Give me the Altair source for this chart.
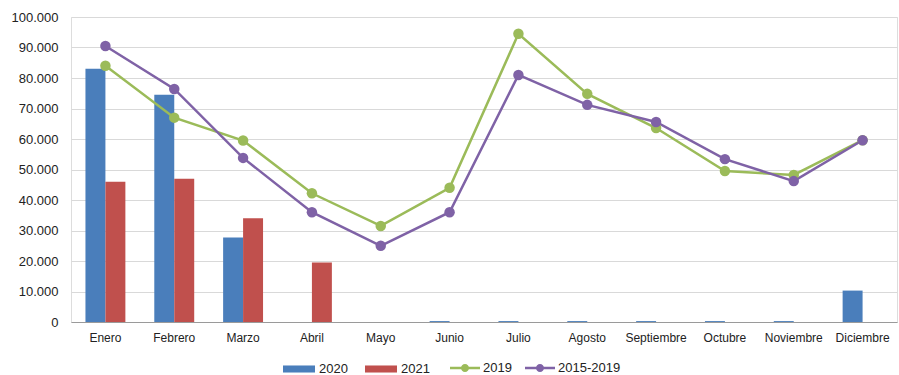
import altair as alt
import pandas as pd

meses = ["Enero", "Febrero", "Marzo", "Abril", "Mayo", "Junio", "Julio",
         "Agosto", "Septiembre", "Octubre", "Noviembre", "Diciembre"]
v2020 = [83000, 74500, 27700, 0, 0, 300, 300, 300, 300, 300, 300, 10300]
v2021 = [46000, 47000, 34000, 19500, None, None, None, None, None, None, None, None]
v2019 = [84000, 67000, 59500, 42200, 31500, 44000, 94500, 74800, 63600, 49500, 48200, 59600]
v1519 = [90500, 76400, 53800, 36000, 25000, 36000, 81000, 71200, 65600, 53400, 46200, 59600]
y_ticks = [0, 10000, 20000, 30000, 40000, 50000, 60000, 70000, 80000, 90000, 100000]

bar_series = ["2020", "2021"]
line_series = ["2019", "2015-2019"]
bar_colors = ["#4A7EBB", "#C0504D"]
line_colors = ["#9BBB59", "#7F62A6"]

rows_b = []
for i, m in enumerate(meses):
    rows_b.append({"mes": m, "serie": "2020", "valor": v2020[i]})
    rows_b.append({"mes": m, "serie": "2021", "valor": v2021[i]})
df_b = pd.DataFrame(rows_b)

rows_l = []
for i, m in enumerate(meses):
    rows_l.append({"mes": m, "serie_l": "2019", "serie_p": "2019", "valor": v2019[i]})
    rows_l.append({"mes": m, "serie_l": "2015-2019", "serie_p": "2015-2019", "valor": v1519[i]})
df_l = pd.DataFrame(rows_l)

FONT = "Liberation Sans"


def x_enc():
    return alt.X("mes:N", sort=meses, title=None,
                 scale=alt.Scale(paddingInner=0.42, paddingOuter=0.21),
                 axis=alt.Axis(labelAngle=0, ticks=False, domain=True, domainColor="#9a9a9a",
                               labelFont=FONT, labelFontSize=12, labelColor="#222222",
                               labelPadding=10, grid=False))


def y_enc():
    return alt.Y("valor:Q", title=None,
                 scale=alt.Scale(domain=[0, 100000], nice=False),
                 axis=alt.Axis(values=y_ticks, tickCount=12, ticks=False, domain=False,
                               labelOverlap=False,
                               labelExpr="replace(format(datum.value, ','), ',', '.')",
                               labelFont=FONT, labelFontSize=13, labelColor="#222222",
                               labelPadding=13, grid=True, gridColor="#d9d9d9"))


bars = alt.Chart(df_b).mark_bar().encode(
    x=x_enc(),
    y=y_enc(),
    xOffset=alt.XOffset("serie:N", sort=bar_series,
                        scale=alt.Scale(paddingInner=0, paddingOuter=0)),
    color=alt.Color("serie:N", scale=alt.Scale(domain=bar_series, range=bar_colors),
                    legend=alt.Legend(title=None, orient="none", direction="horizontal",
                                      legendX=212, legendY=336, padding=0,
                                      symbolType="M-1,-0.22H1V0.22H-1Z", symbolSize=1024,
                                      symbolStrokeWidth=0, labelOffset=4, columnPadding=17,
                                      labelFont=FONT, labelFontSize=13, labelColor="#222222")),
)

lines = alt.Chart(df_l).mark_line(strokeWidth=2.5).encode(
    x=x_enc(),
    y=y_enc(),
    stroke=alt.Stroke("serie_l:N", scale=alt.Scale(domain=line_series, range=line_colors),
                      legend=None),
)

points = alt.Chart(df_l).mark_circle(size=110, opacity=1).encode(
    x=x_enc(),
    y=y_enc(),
    fill=alt.Fill("serie_p:N", scale=alt.Scale(domain=line_series, range=line_colors),
                  legend=alt.Legend(title=None, orient="none", direction="horizontal",
                                    legendX=379, legendY=336, padding=0,
                                    symbolType="M-1,-0.08H1V0.08H-1Z M-0.27,0 A0.27,0.27 0 1,1 0.27,0 A0.27,0.27 0 1,1 -0.27,0Z",
                                    symbolSize=900, symbolStrokeWidth=0, labelOffset=3,
                                    columnPadding=13,
                                    labelFont=FONT, labelFontSize=13, labelColor="#222222")),
)

chart = alt.layer(bars, lines, points).properties(
    width=826, height=305,
    autosize=alt.AutoSizeParams(type="none"),
    padding={"left": 71, "top": 17, "right": 2, "bottom": 53},
).resolve_scale(fill="independent").configure_view(stroke="#c8c8c8").configure(background="white")

chart.save("out.html", embed_options={"renderer": "svg", "actions": False})
